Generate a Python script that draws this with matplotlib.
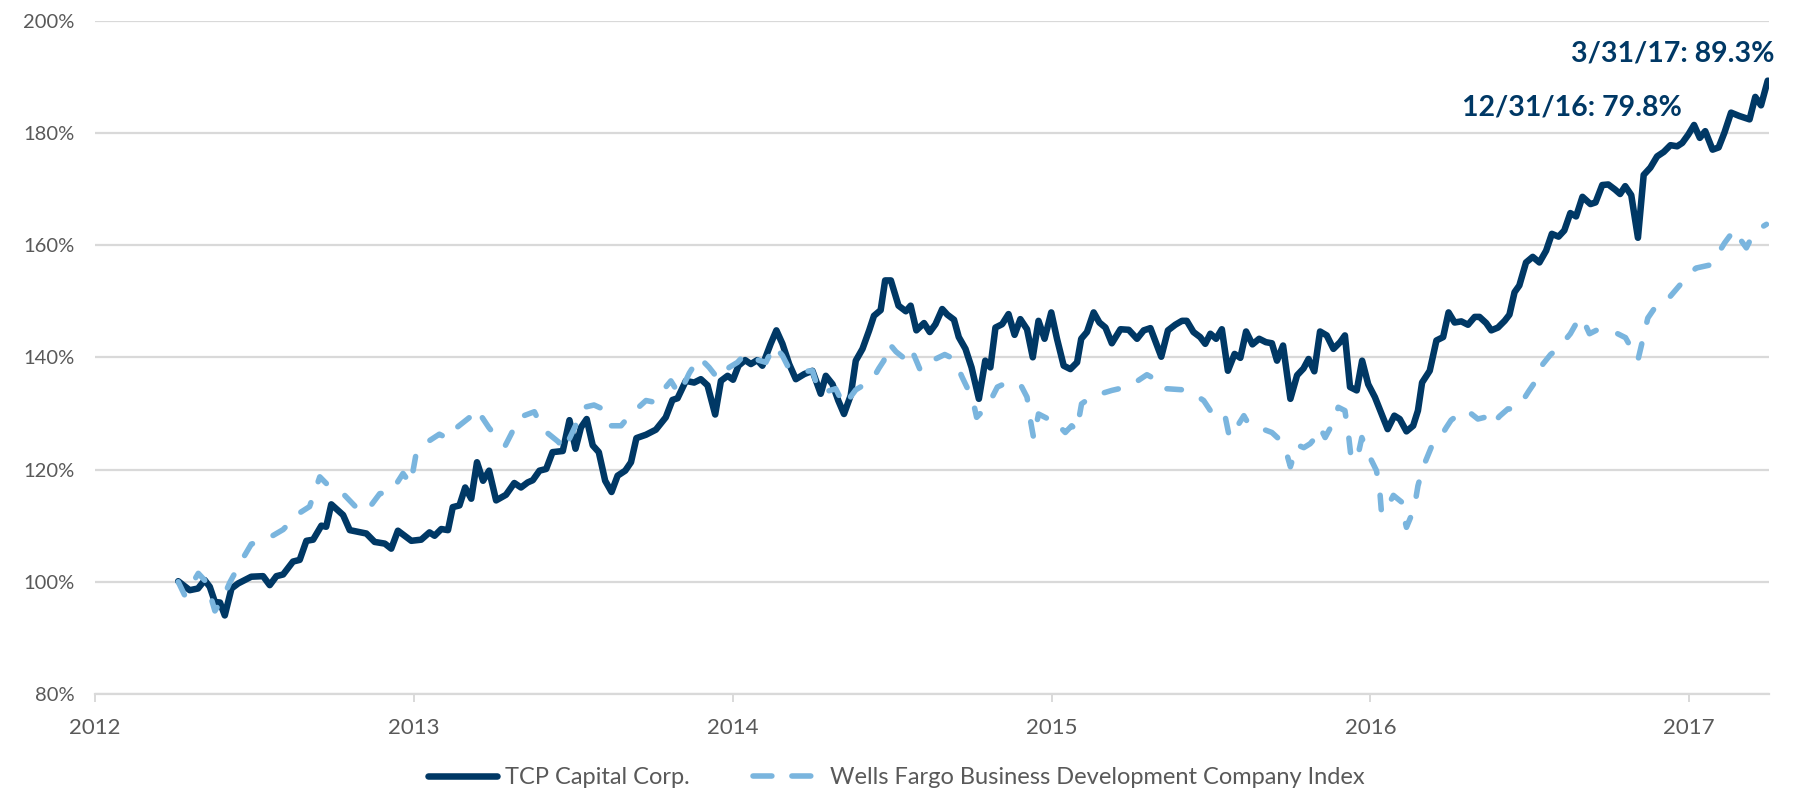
import matplotlib
matplotlib.use("Agg")
import matplotlib.pyplot as plt
from matplotlib.lines import Line2D

plt.rcParams['font.family'] = ['Lato', 'DejaVu Sans']

# ---------------- data (decimal years, cumulative value in %) ----------------
tcp_dates = [
    2012.261, 2012.297, 2012.323, 2012.344, 2012.360, 2012.376, 2012.392, 2012.407, 2012.428, 2012.449,
    2012.490, 2012.527, 2012.548, 2012.569, 2012.590, 2012.621, 2012.642, 2012.663, 2012.684, 2012.710,
    2012.725, 2012.741, 2012.778, 2012.799, 2012.851, 2012.877, 2012.909, 2012.929, 2012.950, 2012.992,
    2013.023, 2013.049, 2013.065, 2013.086, 2013.107, 2013.122, 2013.143, 2013.161, 2013.180, 2013.198,
    2013.217, 2013.236, 2013.258, 2013.289, 2013.315, 2013.336, 2013.357, 2013.373, 2013.394, 2013.415,
    2013.435, 2013.467, 2013.488, 2013.507, 2013.524, 2013.542, 2013.561, 2013.580, 2013.600, 2013.620,
    2013.639, 2013.663, 2013.681, 2013.698, 2013.728, 2013.759, 2013.790, 2013.811, 2013.827, 2013.853,
    2013.879, 2013.900, 2013.921, 2013.945, 2013.963, 2013.984, 2014.001, 2014.018, 2014.039, 2014.057,
    2014.077, 2014.093, 2014.119, 2014.137, 2014.156, 2014.177, 2014.198, 2014.224, 2014.250, 2014.276,
    2014.292, 2014.313, 2014.331, 2014.349, 2014.370, 2014.386, 2014.407, 2014.428, 2014.443, 2014.464,
    2014.478, 2014.496, 2014.520, 2014.543, 2014.558, 2014.576, 2014.600, 2014.618, 2014.636, 2014.657,
    2014.673, 2014.694, 2014.709, 2014.730, 2014.749, 2014.772, 2014.792, 2014.808, 2014.824, 2014.845,
    2014.865, 2014.884, 2014.902, 2014.923, 2014.941, 2014.959, 2014.978, 2014.999, 2015.017, 2015.038,
    2015.059, 2015.080, 2015.093, 2015.111, 2015.132, 2015.150, 2015.169, 2015.189, 2015.216, 2015.242,
    2015.268, 2015.289, 2015.310, 2015.344, 2015.365, 2015.388, 2015.409, 2015.424, 2015.445, 2015.466,
    2015.482, 2015.498, 2015.516, 2015.534, 2015.553, 2015.574, 2015.592, 2015.610, 2015.630, 2015.651,
    2015.672, 2015.691, 2015.707, 2015.726, 2015.749, 2015.770, 2015.790, 2015.806, 2015.824, 2015.842,
    2015.863, 2015.884, 2015.905, 2015.920, 2015.936, 2015.957, 2015.974, 2015.993, 2016.014, 2016.035,
    2016.054, 2016.075, 2016.092, 2016.113, 2016.134, 2016.149, 2016.162, 2016.186, 2016.207, 2016.228,
    2016.245, 2016.264, 2016.285, 2016.306, 2016.327, 2016.342, 2016.363, 2016.379, 2016.400, 2016.421,
    2016.436, 2016.452, 2016.467, 2016.488, 2016.509, 2016.530, 2016.551, 2016.569, 2016.590, 2016.608,
    2016.627, 2016.645, 2016.665, 2016.690, 2016.706, 2016.727, 2016.746, 2016.767, 2016.783, 2016.799,
    2016.818, 2016.839, 2016.857, 2016.878, 2016.899, 2016.920, 2016.941, 2016.962, 2016.978, 2016.997,
    2017.015, 2017.033, 2017.050, 2017.073, 2017.092, 2017.110, 2017.131, 2017.157, 2017.189, 2017.207,
    2017.225, 2017.246,
]
tcp_values = [
    100.1, 98.5, 98.8, 100.3, 99.1, 96.4, 96.3, 94.0, 98.8, 99.7,
    100.9, 101.0, 99.4, 101.0, 101.3, 103.6, 103.9, 107.3, 107.5, 110.0,
    109.8, 113.8, 111.9, 109.2, 108.6, 107.1, 106.8, 105.9, 109.1, 107.3,
    107.5, 108.8, 108.2, 109.4, 109.2, 113.3, 113.6, 116.8, 114.8, 121.3,
    118.0, 119.8, 114.5, 115.5, 117.6, 116.8, 117.7, 118.1, 119.8, 120.1,
    123.1, 123.3, 128.8, 123.7, 127.5, 129.0, 124.3, 123.1, 118.0, 116.0,
    118.9, 119.8, 121.3, 125.6, 126.2, 127.1, 129.3, 132.4, 132.7, 135.8,
    135.5, 136.1, 135.0, 129.8, 135.8, 136.7, 136.0, 138.5, 139.5, 138.8,
    139.5, 138.5, 142.4, 144.8, 142.4, 138.8, 136.1, 137.0, 137.6, 133.5,
    136.7, 135.2, 132.3, 129.9, 133.2, 139.4, 141.5, 144.8, 147.4, 148.4,
    153.7, 153.7, 149.2, 148.2, 149.2, 144.8, 146.1, 144.5, 145.9, 148.6,
    147.6, 146.7, 143.6, 141.5, 138.2, 132.6, 139.4, 138.2, 145.3, 145.9,
    147.7, 144.0, 146.8, 145.0, 140.0, 146.5, 143.3, 148.0, 143.3, 138.5,
    137.9, 139.1, 143.3, 144.5, 148.0, 146.2, 145.3, 142.5, 145.0, 144.9,
    143.3, 144.8, 145.2, 140.1, 144.8, 145.8, 146.5, 146.5, 144.5, 143.6,
    142.4, 144.2, 143.3, 145.0, 137.6, 140.6, 139.9, 144.6, 142.3, 143.3,
    142.7, 142.5, 139.4, 142.1, 132.6, 136.8, 138.0, 139.7, 137.5, 144.6,
    143.9, 141.5, 142.7, 143.9, 134.7, 134.1, 139.4, 135.2, 132.9, 129.9,
    127.2, 129.6, 129.0, 126.8, 127.8, 130.5, 135.5, 137.6, 143.0, 143.6,
    148.0, 146.2, 146.4, 145.8, 147.2, 147.2, 146.1, 144.8, 145.3, 146.5,
    147.6, 151.6, 152.8, 156.9, 157.9, 156.9, 159.0, 162.0, 161.5, 162.6,
    165.7, 165.1, 168.6, 167.3, 167.6, 170.7, 170.8, 169.9, 169.1, 170.5,
    168.9, 161.3, 172.5, 173.8, 175.8, 176.6, 177.8, 177.6, 178.2, 179.7,
    181.4, 179.1, 180.3, 177.0, 177.4, 180.0, 183.6, 183.0, 182.4, 186.4,
    184.9, 189.3,
]

wf_dates = [
    2012.261, 2012.282, 2012.324, 2012.350, 2012.376, 2012.402, 2012.423, 2012.459, 2012.490, 2012.548,
    2012.590, 2012.637, 2012.673, 2012.705, 2012.731, 2012.778, 2012.815, 2012.851, 2012.893, 2012.929,
    2012.966, 2012.990, 2013.007, 2013.034, 2013.080, 2013.107, 2013.124, 2013.175, 2013.200, 2013.214,
    2013.235, 2013.253, 2013.268, 2013.287, 2013.305, 2013.331, 2013.378, 2013.404, 2013.430, 2013.454,
    2013.469, 2013.488, 2013.514, 2013.535, 2013.565, 2013.592, 2013.618, 2013.650, 2013.676, 2013.728,
    2013.754, 2013.780, 2013.806, 2013.832, 2013.864, 2013.895, 2013.926, 2013.955, 2013.989, 2014.015,
    2014.041, 2014.057, 2014.080, 2014.104, 2014.130, 2014.156, 2014.172, 2014.198, 2014.225, 2014.250,
    2014.271, 2014.300, 2014.323, 2014.349, 2014.386, 2014.438, 2014.458, 2014.474, 2014.490, 2014.512,
    2014.534, 2014.558, 2014.575, 2014.589, 2014.636, 2014.665, 2014.694, 2014.720, 2014.736, 2014.751,
    2014.765, 2014.785, 2014.803, 2014.830, 2014.860, 2014.887, 2014.902, 2014.923, 2014.934, 2014.944,
    2014.959, 2014.990, 2015.011, 2015.028, 2015.043, 2015.063, 2015.079, 2015.094, 2015.131, 2015.160,
    2015.189, 2015.242, 2015.270, 2015.299, 2015.325, 2015.336, 2015.362, 2015.414, 2015.445, 2015.477,
    2015.498, 2015.519, 2015.545, 2015.558, 2015.580, 2015.603, 2015.618, 2015.649, 2015.691, 2015.712,
    2015.733, 2015.749, 2015.770, 2015.791, 2015.811, 2015.832, 2015.842, 2015.858, 2015.875, 2015.889,
    2015.899, 2015.920, 2015.931, 2015.938, 2015.950, 2015.962, 2015.973, 2015.993, 2016.019, 2016.030,
    2016.035, 2016.050, 2016.072, 2016.098, 2016.103, 2016.113, 2016.137, 2016.149, 2016.165, 2016.180,
    2016.191, 2016.222, 2016.238, 2016.253, 2016.295, 2016.315, 2016.337, 2016.358, 2016.379, 2016.405,
    2016.431, 2016.457, 2016.478, 2016.497, 2016.515, 2016.541, 2016.565, 2016.588, 2016.627, 2016.645,
    2016.663, 2016.687, 2016.708, 2016.729, 2016.765, 2016.800, 2016.839, 2016.870, 2016.900, 2016.935,
    2016.965, 2016.995, 2017.021, 2017.069, 2017.111, 2017.142, 2017.160, 2017.179, 2017.200, 2017.222,
    2017.242,
]
wf_values = [
    100.0, 97.5, 101.5, 99.9, 94.8, 97.2, 99.9, 103.7, 106.7, 107.9,
    109.3, 112.1, 113.4, 118.7, 117.2, 115.7, 113.5, 112.5, 115.7, 116.0,
    119.3, 117.4, 122.8, 124.6, 126.3, 125.5, 127.0, 129.3, 130.8, 129.3,
    127.5, 126.2, 125.7, 124.3, 126.3, 129.3, 130.3, 127.2, 126.0, 124.9,
    123.4, 125.5, 128.7, 131.1, 131.5, 130.8, 127.8, 127.8, 129.6, 132.3,
    132.0, 134.0, 135.8, 133.4, 137.2, 140.0, 138.2, 136.1, 138.2, 139.1,
    140.7, 140.0, 139.5, 139.1, 142.1, 140.3, 138.5, 137.5, 137.5, 137.6,
    133.8, 134.0, 134.4, 131.4, 134.2, 136.0, 138.0, 139.4, 142.5, 141.0,
    140.0, 141.8, 139.5, 137.6, 139.7, 140.5, 139.7, 136.4, 134.5, 132.9,
    129.3, 130.5, 131.7, 134.7, 135.5, 135.2, 135.2, 132.9, 128.7, 125.5,
    129.9, 129.0, 129.0, 127.5, 126.6, 127.8, 126.9, 131.7, 133.2, 133.6,
    134.1, 134.8, 135.8, 136.9, 136.1, 134.7, 134.4, 134.2, 133.5, 132.3,
    130.5, 131.1, 129.3, 125.7, 127.5, 129.6, 128.1, 127.5, 126.6, 125.5,
    123.7, 120.5, 124.4, 123.9, 124.6, 126.0, 127.5, 125.7, 127.5, 129.3,
    131.1, 130.5, 126.3, 122.8, 121.5, 122.8, 125.7, 122.8, 119.8, 115.7,
    112.1, 113.0, 115.4, 114.2, 112.1, 109.7, 113.0, 117.1, 120.4, 122.5,
    124.0, 126.0, 127.5, 128.8, 130.6, 130.0, 129.0, 129.3, 127.8, 129.5,
    130.8, 130.8, 132.3, 134.0, 135.5, 138.8, 140.5, 141.5, 144.2, 146.0,
    147.2, 144.2, 144.8, 144.9, 144.5, 143.5, 139.5, 147.0, 149.5, 150.5,
    152.5, 154.5, 155.9, 156.5, 160.4, 162.8, 161.0, 159.5, 161.9, 163.0,
    163.7,
]

series_names = ["TCP Capital Corp.", "Wells Fargo Business Development Company Index"]
year_ticks = [2012, 2013, 2014, 2015, 2016, 2017]
y_ticks = [80, 100, 120, 140, 160, 180, 200]
annotations = ["3/31/17: 89.3%", "12/31/16: 79.8%"]

# ---------------- styling ----------------
NAVY = "#003865"
LIGHT = "#7AB5DE"
GRID = "#D9D9D9"
TXT = "#595959"
DASH = (2.6, 4.0)

fig = plt.figure(figsize=(17.93, 7.90), dpi=100)
ax = fig.add_axes([95 / 1793, 1 - 694 / 790, (1769 - 95) / 1793, (694 - 20.6) / 790])

ax.plot(tcp_dates, tcp_values, color=NAVY, lw=4.7, solid_joinstyle='round',
        solid_capstyle='round', zorder=3, label=series_names[0])
ax.plot(wf_dates, wf_values, color=LIGHT, lw=4.0, dashes=DASH,
        dash_capstyle='round', dash_joinstyle='round', zorder=4, label=series_names[1])

ax.set_xlim(2012, 2017.25)
ax.set_ylim(80, 200)
ax.set_xticks(year_ticks)
ax.set_xticklabels([str(y) for y in year_ticks])
ax.set_yticks(y_ticks)
ax.set_yticklabels([f"{v}%" for v in y_ticks])

for s in ['top', 'right', 'left']:
    ax.spines[s].set_visible(False)
ax.spines['bottom'].set_color(GRID)
ax.spines['bottom'].set_linewidth(1.6)
ax.yaxis.grid(True, color=GRID, lw=1.6)
ax.set_axisbelow(True)
ax.tick_params(axis='y', length=0, pad=15, labelsize=14.5, labelcolor=TXT)
ax.tick_params(axis='x', length=6, width=1.4, color=GRID, pad=11, labelsize=16, labelcolor=TXT)

ax.text(2017.267, 194.2, annotations[0], ha='right', va='center', fontsize=20.5,
        fontweight='bold', color=NAVY, clip_on=False)
ax.text(2016.978, 184.6, annotations[1], ha='right', va='center', fontsize=20.5,
        fontweight='bold', color=NAVY, clip_on=False)

handles = [Line2D([], [], color=NAVY, lw=4.7, solid_capstyle='round'),
           Line2D([], [], color=LIGHT, lw=4.0, dashes=(3.4, 3.6), dash_capstyle='round')]
leg = fig.legend(handles, series_names, loc='center', bbox_to_anchor=(0.5, 12 / 790),
                 ncol=2, frameon=False, fontsize=17, handlelength=2.9, handletextpad=0.35,
                 columnspacing=2.7, labelcolor=TXT, borderaxespad=0)

fig.savefig("out.png", dpi=100)
